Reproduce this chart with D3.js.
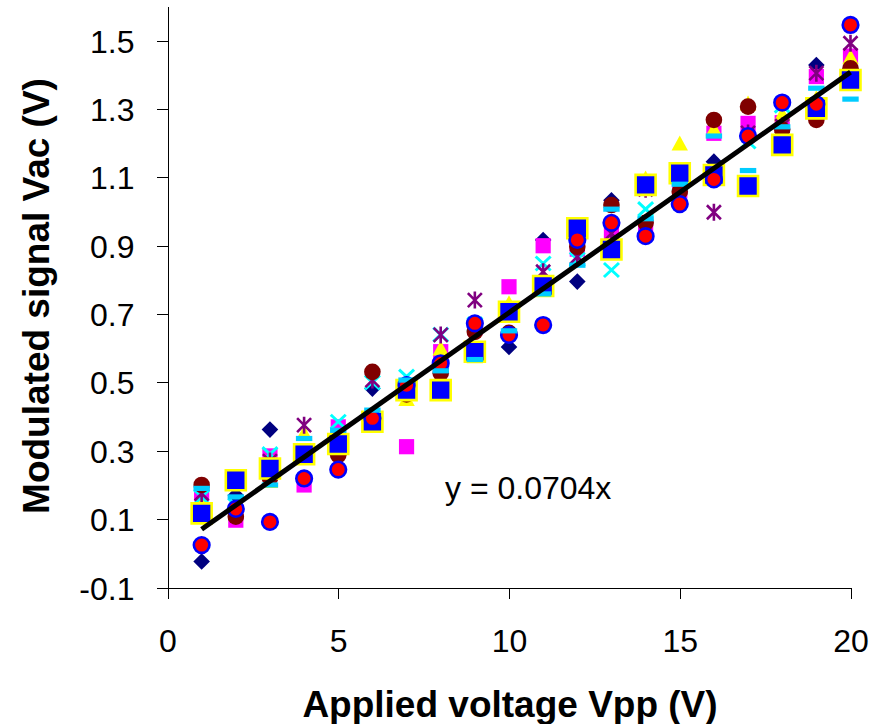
<!DOCTYPE html>
<html>
<head>
<meta charset="utf-8">
<script src="https://cdn.jsdelivr.net/npm/d3@7"></script>
<style>
  body { margin: 0; background: #fff; }
  svg { display: block; font-family: Arial, "Liberation Sans", sans-serif; }
</style>
</head>
<body>
<div id="chart"></div>
<script>
// applied voltage (x) for every measurement run
const voltages = [1, 2, 3, 4, 5, 6, 7, 8, 9, 10, 11, 12, 13, 14, 15, 16, 17, 18, 19, 20];

// one array per run
const runDiamond  = [-0.024, 0.17, 0.362, 0.29, 0.31, 0.482, 0.47, 0.54, 0.66, 0.604, 0.917, 0.795, 1.033, 1.07, 1.10, 1.146, 1.08, 1.20, 1.429, 1.39];
const runSquare   = [0.176, 0.097, 0.285, 0.20, 0.37, 0.40, 0.312, 0.59, 0.66, 0.78, 0.90, 0.89, 0.93, 0.95, 1.06, 1.229, 1.258, 1.26, 1.395, 1.455];
const runTriangle = [0.16, 0.215, 0.21, 0.35, 0.33, 0.40, 0.45, 0.598, 0.575, 0.73, 0.79, 0.95, 0.90, 1.095, 1.198, 1.24, 1.315, 1.283, 1.33, 1.45];
const runCross    = [0.165, 0.14, 0.29, 0.30, 0.385, 0.50, 0.517, 0.64, 0.67, 0.70, 0.848, 0.86, 0.829, 1.007, 1.08, 1.10, 1.205, 1.31, 1.31, 1.40];
const runStar     = [0.175, 0.12, 0.27, 0.375, 0.33, 0.507, 0.48, 0.639, 0.741, 0.70, 0.824, 0.868, 0.936, 1.065, 1.07, 0.998, 1.23, 1.25, 1.405, 1.4925];
const runCircle   = [0.20, 0.107, 0.22, 0.219, 0.287, 0.531, 0.465, 0.527, 0.648, 0.645, 0.78, 0.897, 1.019, 0.967, 1.058, 1.268, 1.307, 1.24, 1.268, 1.419];
const runBigSq    = [0.117, 0.214, 0.248, 0.29, 0.32, 0.385, 0.4775, 0.4775, 0.59, 0.707, 0.782, 0.951, 0.889, 1.078, 1.112, 1.107, 1.075, 1.195, 1.302, 1.385];
const runRedDot   = [0.024, 0.13, 0.092, 0.219, 0.245, 0.395, 0.492, 0.556, 0.673, 0.639, 0.668, 0.917, 0.967, 0.928, 1.022, 1.094, 1.221, 1.319, 1.314, 1.546];
const runDash     = [0.19, 0.165, 0.20, 0.336, 0.36, 0.419, 0.507, 0.534, 0.567, 0.651, 0.759, 0.843, 1.007, 0.979, 1.08, 1.221, 1.12, 1.248, 1.361, 1.329];

const slope = 0.0704;
const trendRange = [1, 20];

const xTicks = [0, 5, 10, 15, 20];
const xTickLabels = ["0", "5", "10", "15", "20"];
const yTicks = [-0.1, 0.1, 0.3, 0.5, 0.7, 0.9, 1.1, 1.3, 1.5];
const yTickLabels = ["-0.1", "0.1", "0.3", "0.5", "0.7", "0.9", "1.1", "1.3", "1.5"];

const W = 880, H = 724;

const svg = d3.select("#chart")
  .append("svg")
  .attr("width", W)
  .attr("height", H);

const x = d3.scaleLinear().domain([0, 20]).range([167.5, 850.5]);
const y = d3.scaleLinear().domain([-0.1, 1.6]).range([587.5, 6.5]);

// axes
const yAxis = svg.append("g")
  .attr("transform", `translate(${x(0)},0)`)
  .call(d3.axisLeft(y).tickValues(yTicks).tickSize(11).tickSizeOuter(0).tickPadding(22)
    .tickFormat((d, i) => yTickLabels[i]));
yAxis.selectAll("text").style("font-size", "32px").attr("dy", "0.36em").attr("fill", "#000");

const xAxis = svg.append("g")
  .attr("transform", `translate(0,${y(-0.1)})`)
  .call(d3.axisBottom(x).tickValues(xTicks).tickSize(11).tickSizeOuter(0).tickPadding(0)
    .tickFormat((d, i) => xTickLabels[i]));
xAxis.selectAll("text").style("font-size", "32px").attr("dy", null).attr("y", 64).attr("fill", "#000");

svg.selectAll(".domain, .tick line").attr("stroke", "#000").attr("shape-rendering", "crispEdges");

// marker shapes
const shapes = {
  diamond: "M0,-8.3L8.3,0L0,8.3L-8.3,0Z",
  square: "M-7.6,-7.6H7.6V7.6H-7.6Z",
  triangle: "M0,-8.5L8.2,6.5H-8.2Z",
  cross: "M-7.5,-7L7.5,7M-7.5,7L7.5,-7",
  star: "M-7,-7L7,7M-7,7L7,-7M0,-8.5V8.5",
  circle: d3.symbol(d3.symbolCircle, Math.PI * 8.3 * 8.3)(),
  bigSquare: "M-10,-10H10V10H-10Z",
  redDot: d3.symbol(d3.symbolCircle, Math.PI * 7.8 * 7.8)(),
  dash: "M-8.2,-2.6H8.2V2.6H-8.2Z"
};

const series = [
  { values: runDiamond,  shape: "diamond",  fill: "#000080", stroke: "none", sw: 0 },
  { values: runSquare,   shape: "square",   fill: "#FF00FF", stroke: "none", sw: 0 },
  { values: runTriangle, shape: "triangle", fill: "#FFFF00", stroke: "none", sw: 0 },
  { values: runCross,    shape: "cross",    fill: "none",    stroke: "#00FFFF", sw: 3 },
  { values: runStar,     shape: "star",     fill: "none",    stroke: "#800080", sw: 2.6 },
  { values: runCircle,   shape: "circle",   fill: "#800000", stroke: "none", sw: 0 },
  { values: runBigSq,    shape: "bigSquare", fill: "#0000FF", stroke: "#FFFF00", sw: 2.6 },
  { values: runRedDot,   shape: "redDot",   fill: "#FF0000", stroke: "#0000FF", sw: 2.6 },
  { values: runDash,     shape: "dash",     fill: "#00CCFF", stroke: "none", sw: 0 }
];

series.forEach(s => {
  svg.append("g")
    .selectAll("path")
    .data(s.values.map((v, i) => ({ x: voltages[i], y: v })))
    .enter()
    .append("path")
    .attr("d", shapes[s.shape])
    .attr("transform", d => `translate(${x(d.x)},${y(d.y)})`)
    .attr("fill", s.fill)
    .attr("stroke", s.stroke)
    .attr("stroke-width", s.sw);
});

// linear trend through the origin
svg.append("line")
  .attr("x1", x(trendRange[0])).attr("y1", y(slope * trendRange[0]))
  .attr("x2", x(trendRange[1])).attr("y2", y(slope * trendRange[1]))
  .attr("stroke", "#000")
  .attr("stroke-width", 5);

svg.append("text")
  .attr("x", 445)
  .attr("y", 499)
  .style("font-size", "32px")
  .text("y = 0.0704x");

// axis titles
svg.append("text")
  .attr("x", 510)
  .attr("y", 717)
  .attr("text-anchor", "middle")
  .style("font-size", "37px")
  .style("font-weight", "bold")
  .text("Applied voltage Vpp (V)");

svg.append("text")
  .attr("transform", "translate(49,296) rotate(-90)")
  .attr("text-anchor", "middle")
  .style("font-size", "37px")
  .style("font-weight", "bold")
  .text("Modulated signal Vac (V)");
</script>
</body>
</html>
